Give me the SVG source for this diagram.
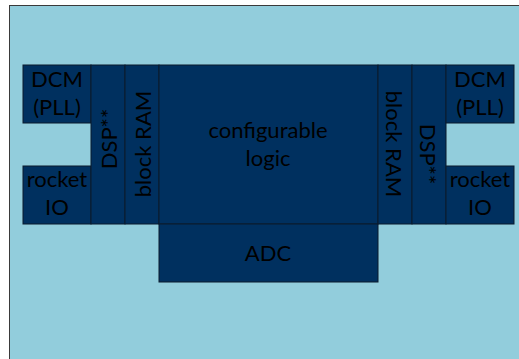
<svg xmlns="http://www.w3.org/2000/svg" width="519" height="359" viewBox="0 0 519 359">
  <style>
    .blk { fill: #00305f; stroke: #0b1b2c; stroke-width: 1; }
    .lbl { font-family: Lato, "Liberation Sans", Arial, sans-serif; font-size: 22px; fill: #000; text-anchor: middle; }
  </style>
  <!-- page -->
  <rect x="0" y="0" width="519" height="359" fill="#ffffff"/>
  <rect x="9.5" y="5.5" width="520" height="360" fill="#92cddc" stroke="#3a3a3a" stroke-width="1"/>

  <g id="dcm-left">
    <rect class="blk" x="23" y="65" width="68" height="58"/>
    <text class="lbl" x="57" y="87">DCM</text>
    <text class="lbl" x="57" y="115">(PLL)</text>
  </g>
  <g id="rocketio-left">
    <rect class="blk" x="23" y="166" width="68" height="58"/>
    <text class="lbl" x="57" y="187">rocket</text>
    <text class="lbl" x="57" y="215">IO</text>
  </g>
  <g id="dsp-left">
    <rect class="blk" x="91" y="65" width="34" height="159"/>
    <text class="lbl" transform="translate(116.5 139) rotate(-90)">DSP**</text>
  </g>
  <g id="bram-left">
    <rect class="blk" x="125" y="65" width="34" height="159"/>
    <text class="lbl" transform="translate(151 144) rotate(-90)">block RAM</text>
  </g>
  <g id="logic">
    <rect class="blk" x="159" y="65" width="219" height="159"/>
    <text class="lbl" x="268" y="138">configurable</text>
    <text class="lbl" x="268" y="166">logic</text>
  </g>
  <g id="adc">
    <rect class="blk" x="159" y="224" width="219" height="58"/>
    <text class="lbl" x="268" y="261">ADC</text>
  </g>
  <g id="bram-right">
    <rect class="blk" x="378" y="65" width="34" height="159"/>
    <text class="lbl" transform="translate(386 144) rotate(90)">block RAM</text>
  </g>
  <g id="dsp-right">
    <rect class="blk" x="412" y="65" width="34" height="159"/>
    <text class="lbl" transform="translate(420 154) rotate(90)">DSP**</text>
  </g>
  <g id="dcm-right">
    <rect class="blk" x="446" y="65" width="68" height="58"/>
    <text class="lbl" x="480" y="87">DCM</text>
    <text class="lbl" x="480" y="115">(PLL)</text>
  </g>
  <g id="rocketio-right">
    <rect class="blk" x="446" y="166" width="68" height="58"/>
    <text class="lbl" x="480" y="187">rocket</text>
    <text class="lbl" x="480" y="215">IO</text>
  </g>
  <g id="connectors"/>
</svg>
